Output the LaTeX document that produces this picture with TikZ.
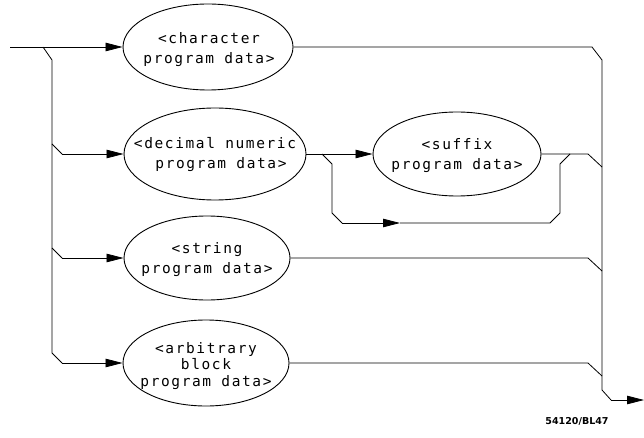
\documentclass[tikz,border=0pt]{standalone}
\usepackage{fontspec}
\newfontfamily\hpfont[LetterSpace=11]{DejaVu Sans Mono}
\newfontfamily\lblfont{DejaVu Sans}
\usetikzlibrary{shapes.geometric,arrows.meta}
\begin{document}
\begin{tikzpicture}[x=1pt,y=-1pt,
  conn/.style={line width=0.8pt, line join=round},
  arr/.style={conn,-{Triangle[length=17pt,width=8.5pt]}},
  bubble/.style={ellipse, draw, line width=0.9pt, inner sep=0pt},
  btext/.style={inner sep=0pt, align=center, font=\hpfont\fontsize{14.5}{20}\selectfont}]
\useasboundingbox (0,0) rectangle (644,438);

% ellipses
\node[bubble, minimum width=170pt, minimum height=86pt] (chr) at (208,47) {};
\node[bubble, minimum width=182pt, minimum height=92pt] (dec) at (215,154) {};
\node[bubble, minimum width=168pt, minimum height=84pt] (suf) at (457,154) {};
\node[bubble, minimum width=166pt, minimum height=84pt] (str) at (207,258) {};
\node[bubble, minimum width=166pt, minimum height=86pt] (arb) at (206,363) {};

% texts
\node[btext] (chrT) at (209,50) {<character\\program data>};
\node[btext] (decT) at (215,155) {<decimal numeric\\\hspace*{12pt}program data>};
\node[btext] (sufT) at (457,156) {<suffix\\program data>};
\node[btext] (strT) at (207,260) {<string\\program data>};
\node[btext, font=\hpfont\fontsize{14.5}{16.5}\selectfont] (arbT) at (206,366) {<arbitrary\\block\\program data>};
\node[font=\lblfont\bfseries\fontsize{9.5}{10}\selectfont] (ref) at (577,421) {54120/BL47};

% junction coordinates
\coordinate (in) at (10,47);
\coordinate (b0) at (43,47);
\coordinate (b1) at (52,60);
\coordinate (b2) at (52,144);
\coordinate (b2e) at (62,154);
\coordinate (b3) at (52,248);
\coordinate (b3e) at (62,258);
\coordinate (b4) at (52,353);
\coordinate (b4e) at (62,363);

\coordinate (p0) at (322,154);
\coordinate (p1) at (332,164);
\coordinate (p2) at (332,213);
\coordinate (p3) at (342,223);
\coordinate (p4) at (400,223);
\coordinate (p5) at (550,223);
\coordinate (p6) at (560,213);
\coordinate (p7) at (560,164);
\coordinate (p8) at (570,154);

\coordinate (r1a) at (592,47);
\coordinate (r1) at (602,60);
\coordinate (r2a) at (588,154);
\coordinate (r2) at (602,167);
\coordinate (r3a) at (588,258);
\coordinate (r3) at (602,271);
\coordinate (r4a) at (588,363);
\coordinate (r4) at (602,376);
\coordinate (r5) at (602,390);
\coordinate (r6) at (611,400);
\coordinate (out) at (644,400);

% left side
\draw[arr] (in) -- (chr.west);
\draw[conn] (b0) -- (b1) -- (b4) -- (b4e);
\draw[arr] (b4e) -- (arb.west);
\draw[conn] (b2) -- (b2e);
\draw[arr] (b2e) -- (dec.west);
\draw[conn] (b3) -- (b3e);
\draw[arr] (b3e) -- (str.west);

% decimal -> suffix with bypass
\draw[arr] (dec.east) -- (suf.west);
\draw[conn] (p0) -- (p1) -- (p2) -- (p3);
\draw[arr] (p3) -- (p4);
\draw[conn] (p4) -- (p5) -- (p6) -- (p7) -- (p8);

% right side
\draw[conn] (chr.east) -- (r1a) -- (r1);
\draw[conn] (suf.east) -- (r2a) -- (r2);
\draw[conn] (str.east) -- (r3a) -- (r3);
\draw[conn] (arb.east) -- (r4a) -- (r4);
\draw[conn] (r1) -- (r5) -- (r6);
\draw[arr] (r6) -- (out);
\end{tikzpicture}
\end{document}
